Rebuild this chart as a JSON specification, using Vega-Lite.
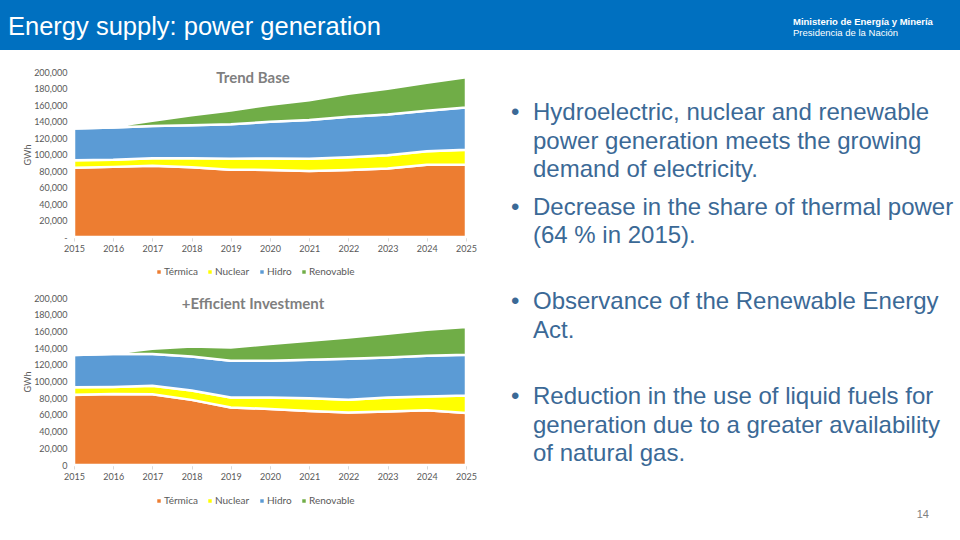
{
  "$schema": "https://vega.github.io/schema/vega-lite/v6.json",
  "padding": 0,
  "background": "white",
  "config": {
    "view": {"stroke": null},
    "font": "Lato",
    "axis": {"labelFont": "Lato", "titleFont": "Lato"},
    "legend": {"labelFont": "Lato"}
  },
  "datasets": {
    "gen": [
      {"scenario": "Trend Base", "year": 2015, "source": "Térmica", "gwh": 84000},
      {"scenario": "Trend Base", "year": 2015, "source": "Nuclear", "gwh": 9000},
      {"scenario": "Trend Base", "year": 2015, "source": "Hidro", "gwh": 38600},
      {"scenario": "Trend Base", "year": 2015, "source": "Renovable", "gwh": 0},
      {"scenario": "Trend Base", "year": 2016, "source": "Térmica", "gwh": 85000},
      {"scenario": "Trend Base", "year": 2016, "source": "Nuclear", "gwh": 8500},
      {"scenario": "Trend Base", "year": 2016, "source": "Hidro", "gwh": 39300},
      {"scenario": "Trend Base", "year": 2016, "source": "Renovable", "gwh": 1000},
      {"scenario": "Trend Base", "year": 2017, "source": "Térmica", "gwh": 86500},
      {"scenario": "Trend Base", "year": 2017, "source": "Nuclear", "gwh": 9000},
      {"scenario": "Trend Base", "year": 2017, "source": "Hidro", "gwh": 38900},
      {"scenario": "Trend Base", "year": 2017, "source": "Renovable", "gwh": 6500},
      {"scenario": "Trend Base", "year": 2018, "source": "Térmica", "gwh": 84500},
      {"scenario": "Trend Base", "year": 2018, "source": "Nuclear", "gwh": 11000},
      {"scenario": "Trend Base", "year": 2018, "source": "Hidro", "gwh": 40100},
      {"scenario": "Trend Base", "year": 2018, "source": "Renovable", "gwh": 12000},
      {"scenario": "Trend Base", "year": 2019, "source": "Térmica", "gwh": 81500},
      {"scenario": "Trend Base", "year": 2019, "source": "Nuclear", "gwh": 13500},
      {"scenario": "Trend Base", "year": 2019, "source": "Hidro", "gwh": 41800},
      {"scenario": "Trend Base", "year": 2019, "source": "Renovable", "gwh": 16500},
      {"scenario": "Trend Base", "year": 2020, "source": "Térmica", "gwh": 81300},
      {"scenario": "Trend Base", "year": 2020, "source": "Nuclear", "gwh": 14000},
      {"scenario": "Trend Base", "year": 2020, "source": "Hidro", "gwh": 44300},
      {"scenario": "Trend Base", "year": 2020, "source": "Renovable", "gwh": 20700},
      {"scenario": "Trend Base", "year": 2021, "source": "Térmica", "gwh": 80000},
      {"scenario": "Trend Base", "year": 2021, "source": "Nuclear", "gwh": 15000},
      {"scenario": "Trend Base", "year": 2021, "source": "Hidro", "gwh": 46700},
      {"scenario": "Trend Base", "year": 2021, "source": "Renovable", "gwh": 24100},
      {"scenario": "Trend Base", "year": 2022, "source": "Térmica", "gwh": 81300},
      {"scenario": "Trend Base", "year": 2022, "source": "Nuclear", "gwh": 15500},
      {"scenario": "Trend Base", "year": 2022, "source": "Hidro", "gwh": 48900},
      {"scenario": "Trend Base", "year": 2022, "source": "Renovable", "gwh": 27800},
      {"scenario": "Trend Base", "year": 2023, "source": "Térmica", "gwh": 83000},
      {"scenario": "Trend Base", "year": 2023, "source": "Nuclear", "gwh": 16000},
      {"scenario": "Trend Base", "year": 2023, "source": "Hidro", "gwh": 49500},
      {"scenario": "Trend Base", "year": 2023, "source": "Renovable", "gwh": 31200},
      {"scenario": "Trend Base", "year": 2024, "source": "Térmica", "gwh": 87500},
      {"scenario": "Trend Base", "year": 2024, "source": "Nuclear", "gwh": 16500},
      {"scenario": "Trend Base", "year": 2024, "source": "Hidro", "gwh": 48900},
      {"scenario": "Trend Base", "year": 2024, "source": "Renovable", "gwh": 34100},
      {"scenario": "Trend Base", "year": 2025, "source": "Térmica", "gwh": 88000},
      {"scenario": "Trend Base", "year": 2025, "source": "Nuclear", "gwh": 17800},
      {"scenario": "Trend Base", "year": 2025, "source": "Hidro", "gwh": 51200},
      {"scenario": "Trend Base", "year": 2025, "source": "Renovable", "gwh": 36600},
      {"scenario": "+Efficient Investment", "year": 2015, "source": "Térmica", "gwh": 84000},
      {"scenario": "+Efficient Investment", "year": 2015, "source": "Nuclear", "gwh": 9000},
      {"scenario": "+Efficient Investment", "year": 2015, "source": "Hidro", "gwh": 38600},
      {"scenario": "+Efficient Investment", "year": 2015, "source": "Renovable", "gwh": 0},
      {"scenario": "+Efficient Investment", "year": 2016, "source": "Térmica", "gwh": 85000},
      {"scenario": "+Efficient Investment", "year": 2016, "source": "Nuclear", "gwh": 8500},
      {"scenario": "+Efficient Investment", "year": 2016, "source": "Hidro", "gwh": 39300},
      {"scenario": "+Efficient Investment", "year": 2016, "source": "Renovable", "gwh": 1000},
      {"scenario": "+Efficient Investment", "year": 2017, "source": "Térmica", "gwh": 84800},
      {"scenario": "+Efficient Investment", "year": 2017, "source": "Nuclear", "gwh": 10000},
      {"scenario": "+Efficient Investment", "year": 2017, "source": "Hidro", "gwh": 38000},
      {"scenario": "+Efficient Investment", "year": 2017, "source": "Renovable", "gwh": 6400},
      {"scenario": "+Efficient Investment", "year": 2018, "source": "Térmica", "gwh": 78000},
      {"scenario": "+Efficient Investment", "year": 2018, "source": "Nuclear", "gwh": 11200},
      {"scenario": "+Efficient Investment", "year": 2018, "source": "Hidro", "gwh": 40800},
      {"scenario": "+Efficient Investment", "year": 2018, "source": "Renovable", "gwh": 12000},
      {"scenario": "+Efficient Investment", "year": 2019, "source": "Térmica", "gwh": 68800},
      {"scenario": "+Efficient Investment", "year": 2019, "source": "Nuclear", "gwh": 12000},
      {"scenario": "+Efficient Investment", "year": 2019, "source": "Hidro", "gwh": 44000},
      {"scenario": "+Efficient Investment", "year": 2019, "source": "Renovable", "gwh": 16000},
      {"scenario": "+Efficient Investment", "year": 2020, "source": "Térmica", "gwh": 67200},
      {"scenario": "+Efficient Investment", "year": 2020, "source": "Nuclear", "gwh": 13600},
      {"scenario": "+Efficient Investment", "year": 2020, "source": "Hidro", "gwh": 44000},
      {"scenario": "+Efficient Investment", "year": 2020, "source": "Renovable", "gwh": 20000},
      {"scenario": "+Efficient Investment", "year": 2021, "source": "Térmica", "gwh": 64800},
      {"scenario": "+Efficient Investment", "year": 2021, "source": "Nuclear", "gwh": 15200},
      {"scenario": "+Efficient Investment", "year": 2021, "source": "Hidro", "gwh": 46000},
      {"scenario": "+Efficient Investment", "year": 2021, "source": "Renovable", "gwh": 22800},
      {"scenario": "+Efficient Investment", "year": 2022, "source": "Térmica", "gwh": 62800},
      {"scenario": "+Efficient Investment", "year": 2022, "source": "Nuclear", "gwh": 15200},
      {"scenario": "+Efficient Investment", "year": 2022, "source": "Hidro", "gwh": 49200},
      {"scenario": "+Efficient Investment", "year": 2022, "source": "Renovable", "gwh": 25600},
      {"scenario": "+Efficient Investment", "year": 2023, "source": "Térmica", "gwh": 64000},
      {"scenario": "+Efficient Investment", "year": 2023, "source": "Nuclear", "gwh": 16800},
      {"scenario": "+Efficient Investment", "year": 2023, "source": "Hidro", "gwh": 48000},
      {"scenario": "+Efficient Investment", "year": 2023, "source": "Renovable", "gwh": 28400},
      {"scenario": "+Efficient Investment", "year": 2024, "source": "Térmica", "gwh": 65600},
      {"scenario": "+Efficient Investment", "year": 2024, "source": "Nuclear", "gwh": 16400},
      {"scenario": "+Efficient Investment", "year": 2024, "source": "Hidro", "gwh": 48800},
      {"scenario": "+Efficient Investment", "year": 2024, "source": "Renovable", "gwh": 31200},
      {"scenario": "+Efficient Investment", "year": 2025, "source": "Térmica", "gwh": 62400},
      {"scenario": "+Efficient Investment", "year": 2025, "source": "Nuclear", "gwh": 20800},
      {"scenario": "+Efficient Investment", "year": 2025, "source": "Hidro", "gwh": 48800},
      {"scenario": "+Efficient Investment", "year": 2025, "source": "Renovable", "gwh": 33200}
    ],
    "sources": [
      {"source": "Térmica", "rank": 1},
      {"source": "Nuclear", "rank": 2},
      {"source": "Hidro", "rank": 3},
      {"source": "Renovable", "rank": 4}
    ],
    "bullets": [
      {"n": 1, "text": ["Hydroelectric, nuclear and renewable", "power generation meets the growing", "demand of electricity."]},
      {"n": 2, "text": ["Decrease in the share of thermal power", "(64 % in 2015)."]},
      {"n": 3, "text": ["Observance of the Renewable Energy", "Act."]},
      {"n": 4, "text": ["Reduction in the use of liquid fuels for", "generation due to a greater availability", "of natural gas."]}
    ]
  },
  "spacing": 18,
  "resolve": {"scale": {"color": "independent"}, "legend": {"color": "independent"}},
  "vconcat": [
    {
      "spacing": 0,
      "hconcat": [
        {
          "width": 760,
          "height": 50,
          "view": {"fill": "#0070C0", "stroke": null},
          "title": {"text": "Energy supply: power generation", "font": "Liberation Sans", "fontSize": 25.5, "fontWeight": "normal", "color": "white", "anchor": "start", "frame": "group", "orient": "top", "baseline": "top", "offset": -40, "dx": 8},
          "data": {"values": []},
          "mark": "text",
          "encoding": {}
        },
        {
          "width": 200,
          "height": 50,
          "view": {"fill": "#0070C0", "stroke": null},
          "title": {"text": "Ministerio de Energía y Minería", "subtitle": "Presidencia de la Nación", "font": "Liberation Sans", "subtitleFont": "Liberation Sans", "fontSize": 9.5, "subtitleFontSize": 9.5, "fontWeight": "bold", "subtitleFontWeight": "normal", "color": "white", "subtitleColor": "white", "subtitlePadding": 1, "anchor": "start", "frame": "group", "orient": "top", "baseline": "top", "offset": -37, "dx": 33},
          "data": {"values": []},
          "mark": "text",
          "encoding": {}
        }
      ]
    },
    {
      "spacing": 0,
      "resolve": {"scale": {"color": "independent"}, "legend": {"color": "independent"}},
      "hconcat": [
        {
          "width": 23,
          "height": 10,
          "data": {"values": []},
          "mark": "text",
          "encoding": {}
        },
        {
          "spacing": 34,
          "resolve": {"scale": {"color": "independent"}, "legend": {"color": "independent"}},
          "hconcat": [
            {
              "spacing": 17,
              "resolve": {"scale": {"color": "independent"}, "legend": {"color": "independent"}},
              "vconcat": [
                {
                  "width": 392,
                  "height": 165,
                  "title": {"text": "Trend Base", "fontSize": 15, "fontWeight": "bold", "color": "#7F7F7F", "frame": "group", "orient": "top", "baseline": "top", "offset": -18, "dx": -17},
                  "data": {"name": "gen"},
                  "transform": [
                    {"filter": "datum.scenario === 'Trend Base'"},
                    {"lookup": "source", "from": {"data": {"name": "sources"}, "key": "source", "fields": ["rank"]}}
                  ],
                  "mark": {"type": "area", "stroke": "white", "strokeWidth": 2.5},
                  "encoding": {
                    "x": {"field": "year", "type": "quantitative", "scale": {"domain": [2015, 2025], "nice": false, "zero": false},
                          "axis": {"title": null, "values": [2015, 2016, 2017, 2018, 2019, 2020, 2021, 2022, 2023, 2024, 2025], "format": "d", "labelFontSize": 9, "labelColor": "#595959", "domainColor": "#D9D9D9", "tickColor": "#D9D9D9", "tickSize": 4, "labelPadding": 3, "grid": false, "labelOverlap": false, "labelFlush": false}},
                    "y": {"field": "gwh", "type": "quantitative", "stack": "zero", "scale": {"domain": [0, 200000], "nice": false},
                          "axis": {"title": "GWh", "titleFontSize": 9, "titleFontWeight": "normal", "titleColor": "#595959", "titlePadding": 4, "labelFontSize": 9, "labelColor": "#595959", "domain": false, "ticks": false, "grid": false, "labelPadding": 7, "minExtent": 38, "maxExtent": 38, "format": ",.0f", "values": [0, 20000, 40000, 60000, 80000, 100000, 120000, 140000, 160000, 180000, 200000], "labelExpr": "datum.value === 0 ? '-' : datum.label"}},
                    "color": {"field": "source", "type": "nominal", "scale": {"domain": ["Térmica", "Nuclear", "Hidro", "Renovable"], "range": ["#ED7D31", "#FFFF00", "#5B9BD5", "#70AD47"]},
                              "legend": {"orient": "none", "legendX": 80, "legendY": 195, "direction": "horizontal", "title": null, "symbolType": "square", "symbolSize": 12, "symbolStrokeWidth": 0, "labelFontSize": 10, "labelColor": "#595959", "labelOffset": 0, "columnPadding": 7}},
                    "order": {"field": "rank", "type": "quantitative"}
                  }
                },
                {
                  "width": 392,
                  "height": 167,
                  "title": {"text": "+Efficient Investment", "fontSize": 15, "fontWeight": "bold", "color": "#7F7F7F", "frame": "group", "orient": "top", "baseline": "top", "offset": -18, "dx": -17},
                  "data": {"name": "gen"},
                  "transform": [
                    {"filter": "datum.scenario === '+Efficient Investment'"},
                    {"lookup": "source", "from": {"data": {"name": "sources"}, "key": "source", "fields": ["rank"]}}
                  ],
                  "mark": {"type": "area", "stroke": "white", "strokeWidth": 2.5},
                  "encoding": {
                    "x": {"field": "year", "type": "quantitative", "scale": {"domain": [2015, 2025], "nice": false, "zero": false},
                          "axis": {"title": null, "values": [2015, 2016, 2017, 2018, 2019, 2020, 2021, 2022, 2023, 2024, 2025], "format": "d", "labelFontSize": 9, "labelColor": "#595959", "domainColor": "#D9D9D9", "tickColor": "#D9D9D9", "tickSize": 4, "labelPadding": 3, "grid": false, "labelOverlap": false, "labelFlush": false}},
                    "y": {"field": "gwh", "type": "quantitative", "stack": "zero", "scale": {"domain": [0, 200000], "nice": false},
                          "axis": {"title": "GWh", "titleFontSize": 9, "titleFontWeight": "normal", "titleColor": "#595959", "titlePadding": 4, "labelFontSize": 9, "labelColor": "#595959", "domain": false, "ticks": false, "grid": false, "labelPadding": 7, "minExtent": 38, "maxExtent": 38, "format": ",.0f", "values": [0, 20000, 40000, 60000, 80000, 100000, 120000, 140000, 160000, 180000, 200000]}},
                    "color": {"field": "source", "type": "nominal", "scale": {"domain": ["Térmica", "Nuclear", "Hidro", "Renovable"], "range": ["#ED7D31", "#FFFF00", "#5B9BD5", "#70AD47"]},
                              "legend": {"orient": "none", "legendX": 80, "legendY": 198, "direction": "horizontal", "title": null, "symbolType": "square", "symbolSize": 12, "symbolStrokeWidth": 0, "labelFontSize": 10, "labelColor": "#595959", "labelOffset": 0, "columnPadding": 7}},
                    "order": {"field": "rank", "type": "quantitative"}
                  }
                }
              ]
            },
            {
              "width": 418,
              "height": 438,
              "data": {"name": "bullets"},
              "title": {"text": "14", "orient": "bottom", "anchor": "end", "frame": "group", "font": "Liberation Sans", "fontSize": 11, "fontWeight": "normal", "color": "#7F7F7F", "baseline": "top", "offset": -1},
              "encoding": {
                "y": {"field": "n", "type": "ordinal", "scale": {"type": "point", "padding": 0, "range": [29, 313]}, "axis": null},
                "x": {"value": 0}
              },
              "layer": [
                {"mark": {"type": "text", "align": "left", "baseline": "top", "font": "Liberation Sans", "fontSize": 24, "lineHeight": 28.6, "color": "#3B6996"}, "encoding": {"text": {"value": "•"}}},
                {"mark": {"type": "text", "align": "left", "baseline": "top", "font": "Liberation Sans", "fontSize": 24, "lineHeight": 28.6, "color": "#3B6996", "dx": 22}, "encoding": {"text": {"field": "text"}}}
              ]
            }
          ]
        }
      ]
    }
  ]
}
